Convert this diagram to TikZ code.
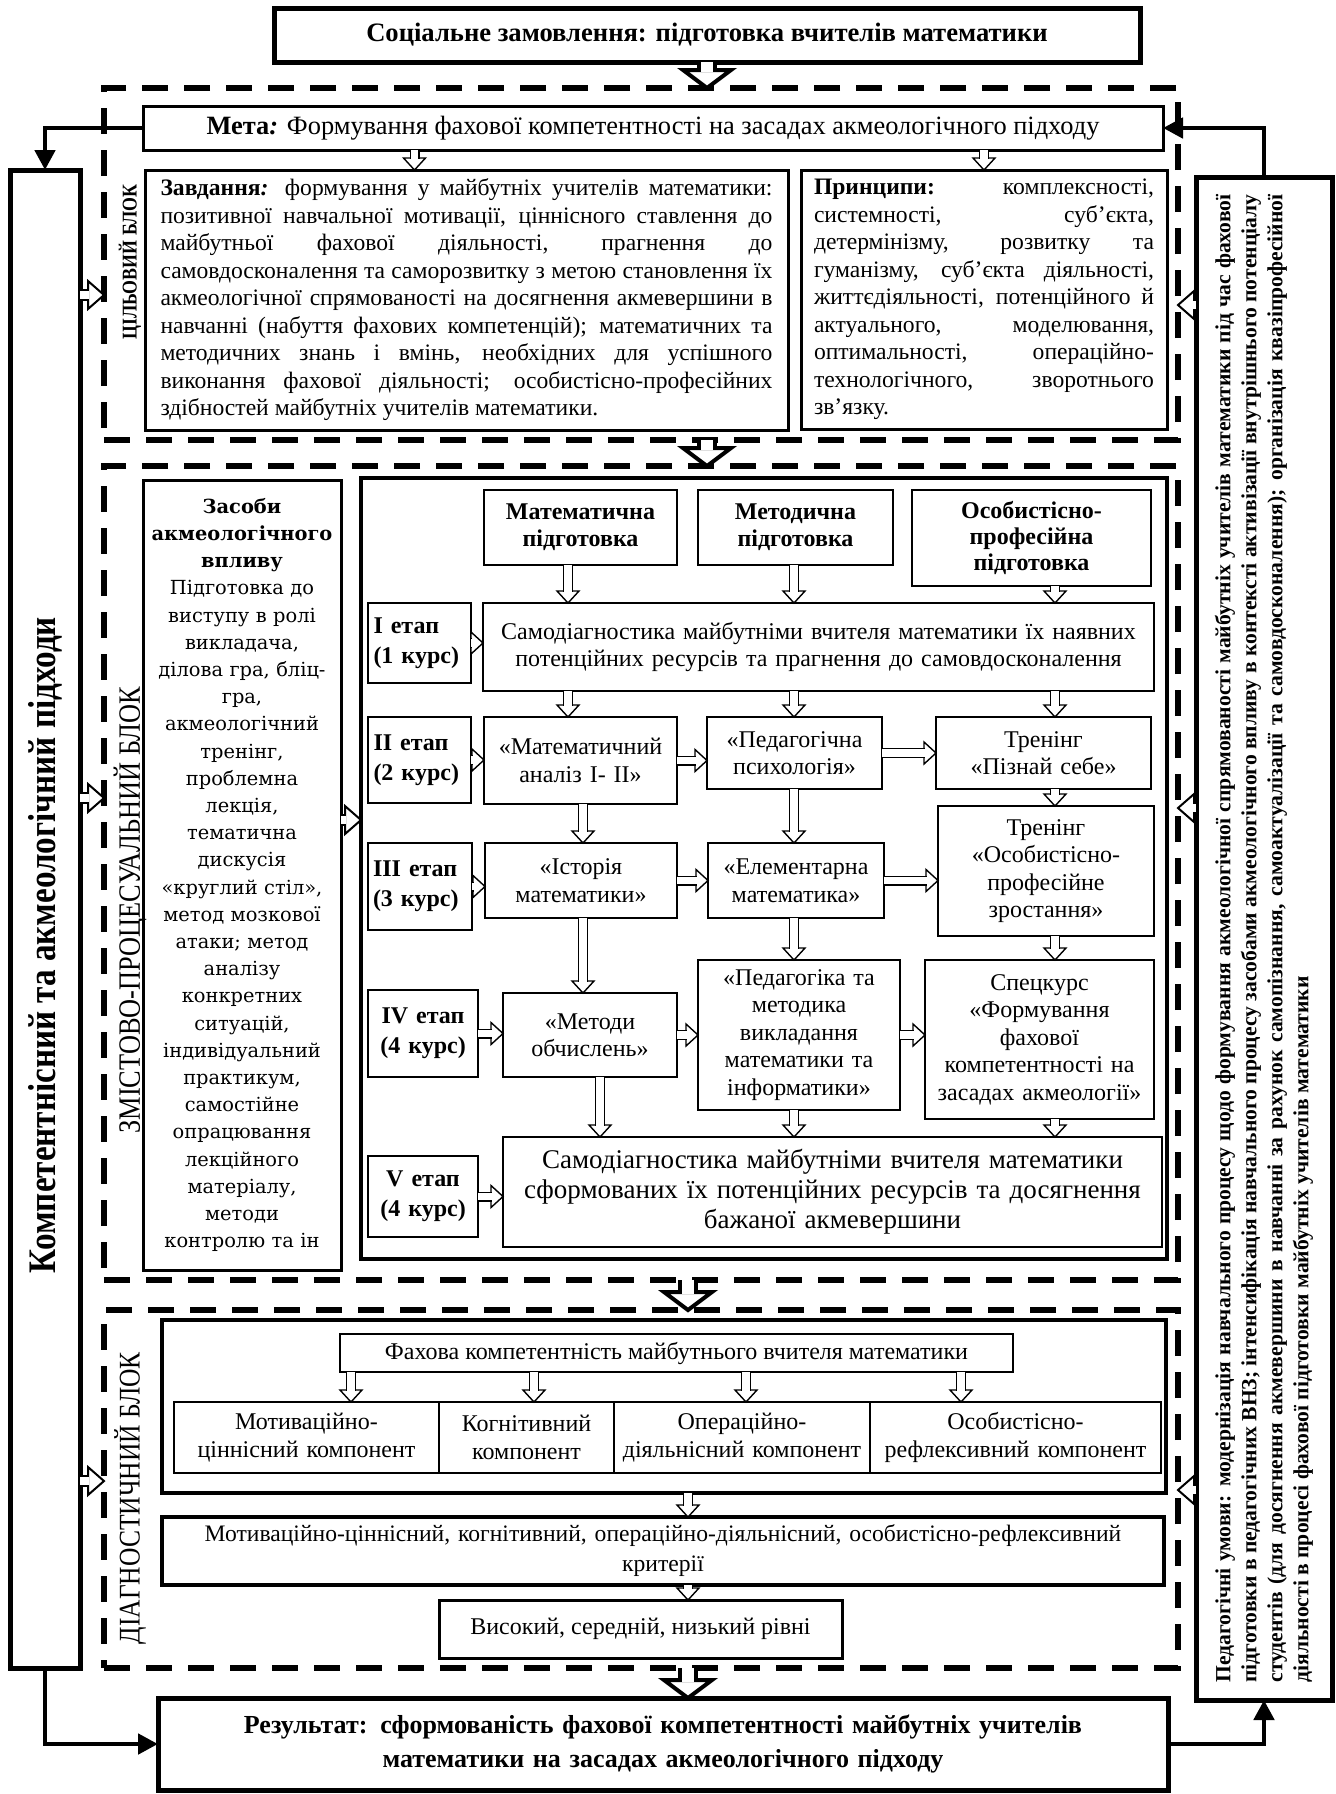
\documentclass[tikz,border=0pt]{standalone}
\usepackage{fontspec}
\setmainfont{Liberation Serif}
\newfontfamily\zasfont{DejaVu Serif}
\newfontfamily\narrowfont[FakeStretch=0.85]{Liberation Serif}
\usetikzlibrary{arrows.meta,decorations.markings}

\begin{document}
\begin{tikzpicture}[x=0.5pt,y=-0.5pt,line join=miter,
  area/.style n args={4}{at={({(#1+#3)/2},{(#2+#4)/2})},minimum width={(#3-#1)*0.5pt},minimum height={(#4-#2)*0.5pt}},
  box/.style={draw,line width=1pt,inner sep=0pt,outer sep=0pt,align=center,font=\fontsize{12}{13.75}\selectfont},
  blk/.style={draw,line width=2.6pt,dash pattern=on 13pt off 8pt,inner sep=0pt,outer sep=0pt},
  lbl/.style={rotate=90,inner sep=0pt},
  link/.style={line width=2.4pt,-{Triangle[length=10pt,width=10pt]}},
  hol/.style n args={4}{line width=#1,shorten >=#4-0.5*#2,
    postaction={draw=white,line width=#1-2*#2,shorten >=#4-0.5*#2},
    preaction={decorate,decoration={markings,mark=at position 1 with
      {\draw[line width=#2,fill=white,shorten >=0pt,shorten <=0pt] (0pt,0pt) -- (-#4,#3) -- (-#4,-#3) -- cycle;}}}},
  sm/.style={hol={5pt}{0.7pt}{5.5pt}{6pt}},
  md/.style={hol={6pt}{1pt}{7pt}{8pt}},
  bg/.style={hol={10pt}{2pt}{12pt}{9pt}}]
\useasboundingbox (0,0) rectangle (1335,1794);

\node[box,line width=2.5pt,area={274}{8}{1140}{62},font=\bfseries\fontsize{13.3}{15}\selectfont] (order) {Соціальне замовлення: підготовка вчителів математики};

\node[blk,area={104}{88}{1178}{440}] (aim) {};
\node[blk,area={104}{466}{1178}{1280}] (proc) {};
\node[blk,area={104}{1310}{1178}{1668}] (diagn) {};

\node[lbl,font=\narrowfont\bfseries\fontsize{10.5}{12}\selectfont] (aimlbl) at (130,262) {ЦІЛЬОВИЙ БЛОК};
\node[lbl,font=\narrowfont\fontsize{15.5}{17}\selectfont] (proclbl) at (130,910) {ЗМІСТОВО-ПРОЦЕСУАЛЬНИЙ БЛОК};
\node[lbl,font=\narrowfont\fontsize{15}{17}\selectfont] (diaglbl) at (130,1498) {ДІАГНОСТИЧНИЙ БЛОК};

\node[box,line width=1.5pt,area={143}{106}{1163}{150},font=\fontsize{13.2}{15}\selectfont] (goal) {\textbf{Мета\textit{:}} Формування фахової компетентності на засадах акмеологічного підходу};
\node[box,line width=1.5pt,area={145}{170}{788}{430},text width=306pt,align=justify,font=\fontsize{11.8}{13.75}\selectfont] (tasks) {\textbf{Завдання\textit{:}} формування у майбутніх учителів математики:\linebreak позитивної навчальної мотивації, ціннісного ставлення до\linebreak майбутньої фахової діяльності, прагнення до\linebreak самовдосконалення та саморозвитку з метою становлення їх\linebreak акмеологічної спрямованості на досягнення акмевершини в\linebreak навчанні (набуття фахових компетенцій); математичних та\linebreak методичних знань і вмінь, необхідних для успішного\linebreak виконання фахової діяльності; особистісно-професійних\linebreak здібностей майбутніх учителів математики.};
\node[box,line width=1.5pt,area={801}{170}{1167}{429},text width=170pt,align=justify,font=\fontsize{11.8}{13.75}\selectfont] (princ) {\textbf{Принципи:} комплексності,\linebreak системності, суб’єкта,\linebreak детермінізму, розвитку та\linebreak гуманізму, суб’єкта діяльності,\linebreak життєдіяльності, потенційного й\linebreak актуального, моделювання,\linebreak оптимальності, операційно-\linebreak технологічного, зворотнього\linebreak зв’язку.};

\node[box,line width=2.5pt,area={10}{170}{80}{1668}] (lcol) {};
\node[lbl,font=\narrowfont\bfseries\fontsize{19.5}{21}\selectfont] (lcoltxt) at (45,945) {Компетентнісний та акмеологічний підходи};
\node[box,line width=2.5pt,area={1196}{177}{1332}{1700}] (rcol) {};
\node[lbl,text width=744pt,align=justify,font=\bfseries\fontsize{10.8}{13}\selectfont] (cond) at (rcol.center) {Педагогічні умови: модернізація навчального процесу щодо формування акмеологічної спрямованості майбутніх учителів математики під час фахової\linebreak підготовки в педагогічних ВНЗ; інтенсифікація навчального процесу засобами акмеологічного впливу в контексті активізації внутрішнього потенціалу\linebreak студентів (для досягнення акмевершини в навчанні за рахунок самопізнання, самоактуалізації та самовдосконалення); організація квазіпрофесійної\linebreak діяльності в процесі фахової підготовки майбутніх учителів математики};

\node[box,line width=1.5pt,area={143}{480}{341}{1270},text width=96pt,font=\zasfont\fontsize{9.7}{13.6}\selectfont] (means) {\textbf{Засоби}\\\textbf{акмеологічного}\\\textbf{впливу}\\Підготовка до\\виступу в ролі\\викладача,\\ділова гра, бліц-\\гра,\\акмеологічний\\тренінг,\\проблемна\\лекція,\\тематична\\дискусія\\«круглий стіл»,\\метод мозкової\\атаки; метод\\аналізу\\конкретних\\ситуацій,\\індивідуальний\\практикум,\\самостійне\\опрацювання\\лекційного\\матеріалу,\\методи\\контролю та ін};
\node[box,line width=2pt,area={361}{478}{1167}{1259}] (stages) {};

\node[box,area={484}{490}{677}{565},text width=92pt,font=\bfseries\fontsize{12}{13.5}\selectfont] (mprep) {Математична\\підготовка};
\node[box,area={698}{490}{893}{565},text width=92pt,font=\bfseries\fontsize{12}{13.5}\selectfont] (meprep) {Методична\\підготовка};
\node[box,area={912}{490}{1151}{586},text width=112pt,font=\bfseries\fontsize{12}{13}\selectfont] (pprep) {Особистісно-\\професійна\\підготовка};

\node[box,area={368}{603}{471}{683},text width=46pt,align=left,font=\bfseries\fontsize{12}{15}\selectfont] (st1) {I етап\\(1 курс)};
\node[box,area={483}{603}{1154}{691},text width=325pt] (self1) {Самодіагностика майбутніми вчителя математики їх наявних\\потенційних ресурсів та прагнення до самовдосконалення};

\node[box,area={368}{717}{471}{803},text width=46pt,align=left,font=\bfseries\fontsize{12}{15}\selectfont] (st2) {II етап\\(2 курс)};
\node[box,area={484}{717}{677}{804},text width=92pt] (ma) {«Математичний\\аналіз I- II»};
\node[box,area={707}{717}{882}{789},text width=84pt] (pp) {«Педагогічна\\психологія»};
\node[box,area={936}{717}{1151}{789},text width=104pt] (tr1) {Тренінг\\«Пізнай себе»};

\node[box,area={368}{843}{472}{930},text width=47pt,align=left,font=\bfseries\fontsize{12}{15}\selectfont] (st3) {III етап\\(3 курс)};
\node[box,area={485}{843}{677}{918},text width=92pt] (hist) {«Історія\\математики»};
\node[box,area={708}{843}{884}{918},text width=84pt] (elem) {«Елементарна\\математика»};
\node[box,area={938}{806}{1154}{936},text width=104pt] (tr2) {Тренінг\\«Особистісно-\\професійне\\зростання»};

\node[box,area={368}{990}{478}{1077},text width=52pt,font=\bfseries\fontsize{12}{15}\selectfont] (st4) {IV етап\\(4 курс)};
\node[box,area={503}{993}{677}{1077},text width=84pt] (calc) {«Методи\\обчислень»};
\node[box,area={698}{960}{900}{1110},text width=98pt] (pm) {«Педагогіка та\\методика\\викладання\\математики та\\інформатики»};
\node[box,area={925}{960}{1154}{1119},text width=112pt] (spec) {Спецкурс\\«Формування\\фахової\\компетентності на\\засадах акмеології»};

\node[box,area={368}{1156}{478}{1237},text width=52pt,font=\bfseries\fontsize{12}{15}\selectfont] (st5) {V етап\\(4 курс)};
\node[box,area={503}{1137}{1162}{1247},text width=320pt,font=\fontsize{13.5}{15}\selectfont] (self2) {Самодіагностика майбутніми вчителя математики\\сформованих їх потенційних ресурсів та досягнення\\бажаної акмевершини};

\node[box,line width=1.8pt,area={162}{1320}{1166}{1493}] (dframe) {};
\node[box,area={340}{1334}{1013}{1372}] (comp) {Фахова компетентність майбутнього вчителя математики};
\node[box,area={174}{1402}{439}{1473},text width=128pt] (comp1) {Мотиваційно-\\ціннісний компонент};
\node[box,area={439}{1402}{614}{1473},text width=84pt] (comp2) {Когнітивний\\компонент};
\node[box,area={614}{1402}{870}{1473},text width=126pt] (comp3) {Операційно-\\діяльнісний компонент};
\node[box,area={870}{1402}{1161}{1473},text width=140pt] (comp4) {Особистісно-\\рефлексивний компонент};
\node[box,line width=1.8pt,area={162}{1517}{1164}{1585},text width=490pt,font=\fontsize{11.8}{15}\selectfont] (crit) {Мотиваційно-ціннісний, когнітивний, операційно-діяльнісний, особистісно-рефлексивний\\критерії};
\node[box,line width=1.5pt,area={439}{1600}{842}{1658}] (levels) {Високий, середній, низький рівні};
\node[box,line width=2.5pt,area={158}{1698}{1168}{1790},text width=490pt,font=\bfseries\fontsize{13}{17}\selectfont] (res) {Результат: сформованість фахової компетентності майбутніх учителів\\математики на засадах акмеологічного підходу};

\coordinate (tk) at ([xshift=-26pt]tasks.north);
\coordinate (mid) at (688,0);
\coordinate (l1) at (0,295);
\coordinate (l2) at (0,798);
\coordinate (l3) at (0,1481);
\coordinate (r1) at (0,305);
\coordinate (r2) at (0,808);
\coordinate (r3) at (0,1490);
\coordinate (mz) at (0,820);
\coordinate (xa) at (568,0);
\coordinate (xb) at (794,0);
\coordinate (xc) at (1055,0);
\coordinate (xd) at (583,0);
\coordinate (xe) at (600,0);
\coordinate (c1) at (351,0);
\coordinate (c2) at (534,0);
\coordinate (c3) at (746,0);
\coordinate (c4) at (961,0);

\draw[link] (goal.west) -| (lcol.north);
\draw[link] (rcol.north) |- (goal.east);
\draw[link] (lcol.south) |- (res.west);
\draw[link] (res.east) -| (rcol.south);

\draw[bg] (order.south) -- (order.south |- aim.north);
\draw[sm] (tk |- goal.south) -- (tk);
\draw[sm] (goal.south -| princ.north) -- (princ.north);
\draw[bg] (aim.south -| order.south) -- (proc.north -| order.south);
\draw[bg] (proc.south -| mid) -- (diagn.north -| mid);
\draw[bg] (diagn.south -| mid) -- (res.north -| mid);

\draw[md] (lcol.east |- l1) -- (aim.west |- l1);
\draw[md] (lcol.east |- l2) -- (proc.west |- l2);
\draw[md] (lcol.east |- l3) -- (diagn.west |- l3);
\draw[md] (rcol.west |- r1) -- (aim.east |- r1);
\draw[md] (rcol.west |- r2) -- (proc.east |- r2);
\draw[md] (rcol.west |- r3) -- (diagn.east |- r3);
\draw[md] (means.east |- mz) -- (stages.west |- mz);

\draw[sm] (mprep.south -| xa) -- (self1.north -| xa);
\draw[sm] (meprep.south -| xb) -- (self1.north -| xb);
\draw[sm] (pprep.south -| xc) -- (self1.north -| xc);
\draw[sm] (self1.south -| xa) -- (ma.north -| xa);
\draw[sm] (self1.south -| xb) -- (pp.north -| xb);
\draw[sm] (self1.south -| xc) -- (tr1.north -| xc);
\draw[sm] (ma.south -| xd) -- (hist.north -| xd);
\draw[sm] (pp.south -| xb) -- (elem.north -| xb);
\draw[sm] (tr1.south -| xc) -- (tr2.north -| xc);
\draw[sm] (hist.south -| xd) -- (calc.north -| xd);
\draw[sm] (elem.south -| xb) -- (pm.north -| xb);
\draw[sm] (tr2.south -| xc) -- (spec.north -| xc);
\draw[sm] (calc.south -| xe) -- (self2.north -| xe);
\draw[sm] (pm.south -| xb) -- (self2.north -| xb);
\draw[sm] (spec.south -| xc) -- (self2.north -| xc);

\draw[sm] (st1.east) -- (st1.east -| self1.west);
\draw[sm] (st2.east) -- (st2.east -| ma.west);
\draw[sm] (ma.east) -- (ma.east -| pp.west);
\draw[sm] (pp.east) -- (pp.east -| tr1.west);
\draw[sm] (st3.east) -- (st3.east -| hist.west);
\draw[sm] (hist.east) -- (hist.east -| elem.west);
\draw[sm] (elem.east) -- (elem.east -| tr2.west);
\draw[sm] (st4.east) -- (st4.east -| calc.west);
\draw[sm] (calc.east) -- (calc.east -| pm.west);
\draw[sm] (pm.east) -- (pm.east -| spec.west);
\draw[sm] (st5.east) -- (st5.east -| self2.west);

\draw[sm] (comp.south -| c1) -- (comp1.north -| c1);
\draw[sm] (comp.south -| c2) -- (comp2.north -| c2);
\draw[sm] (comp.south -| c3) -- (comp3.north -| c3);
\draw[sm] (comp.south -| c4) -- (comp4.north -| c4);
\draw[sm] (dframe.south -| mid) -- (crit.north -| mid);
\draw[sm] (crit.south -| mid) -- (levels.north -| mid);
\end{tikzpicture}
\end{document}
